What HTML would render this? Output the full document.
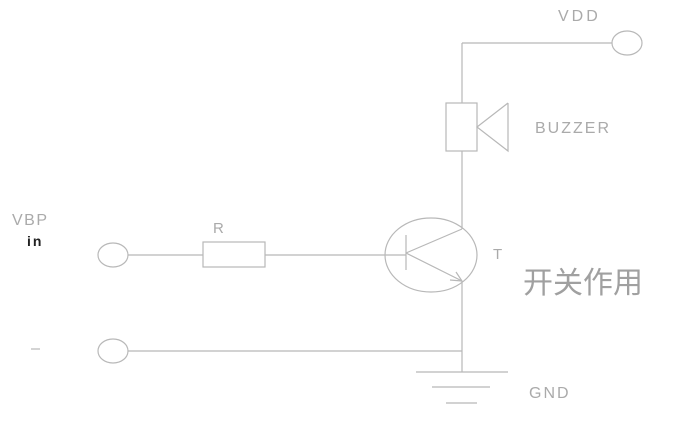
<!DOCTYPE html>
<html><head><meta charset="utf-8"><style>
html,body{margin:0;padding:0;background:#fff;width:683px;height:433px;overflow:hidden}
svg{display:block}
text{font-family:"Liberation Sans","Noto Sans CJK SC",sans-serif;fill:#aaa}
</style></head><body>
<svg width="683" height="433" viewBox="0 0 683 433" xmlns="http://www.w3.org/2000/svg">
<g stroke="#b8b8b8" stroke-width="1.2" fill="none">
<line x1="462" y1="43" x2="612" y2="43"/>
<ellipse cx="627" cy="43" rx="15" ry="12"/>
<line x1="462" y1="43" x2="462" y2="103"/>
<rect x="446" y="103" width="31" height="48"/>
<polyline points="508,103 477,127 508,151 508,103"/>
<line x1="462" y1="151" x2="462" y2="229"/>
<ellipse cx="431" cy="255" rx="46" ry="37"/>
<line x1="406" y1="235" x2="406" y2="270"/>
<line x1="406" y1="253" x2="462" y2="229"/>
<line x1="406" y1="253" x2="462" y2="281"/>
<polyline points="450,280 462,281 456,272"/>
<line x1="462" y1="281" x2="462" y2="372"/>
<ellipse cx="113" cy="255" rx="15" ry="12"/>
<line x1="128" y1="255" x2="203" y2="255"/>
<rect x="203" y="242" width="62" height="25"/>
<line x1="265" y1="255" x2="406" y2="255"/>
<ellipse cx="113" cy="351" rx="15" ry="12"/>
<line x1="128" y1="351" x2="462" y2="351"/>
<line x1="416" y1="372" x2="508" y2="372"/>
<line x1="432" y1="387" x2="490" y2="387"/>
<line x1="446" y1="403" x2="477" y2="403"/>
<line x1="31" y1="349" x2="40" y2="349"/>
</g>
<text x="558" y="21" font-size="16" letter-spacing="3">VDD</text>
<text x="535" y="133" font-size="16" letter-spacing="2">BUZZER</text>
<text x="493" y="259" font-size="15">T</text>
<text x="523" y="293" font-size="30" style="fill:#a0a0a0">开关作用</text>
<text x="12" y="225" font-size="16" letter-spacing="1.5">VBP</text>
<text x="27" y="246" font-size="14" font-weight="bold" style="fill:#222" letter-spacing="2">in</text>
<text x="213" y="233" font-size="15">R</text>
<text x="529" y="398" font-size="16" letter-spacing="2">GND</text>
</svg>
</body></html>
